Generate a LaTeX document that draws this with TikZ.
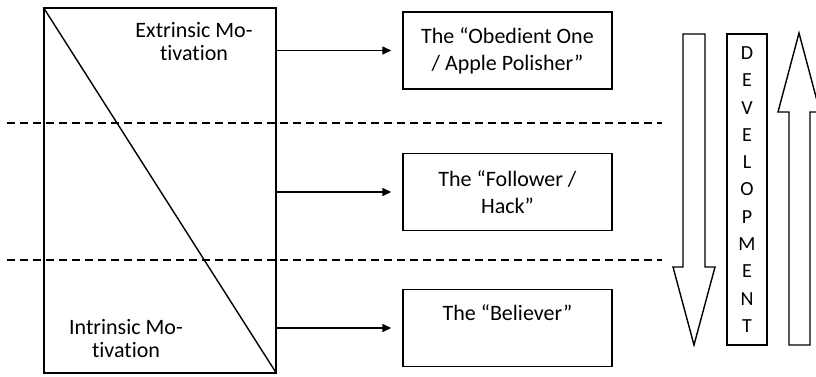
\documentclass[tikz,border=0pt]{standalone}
\usepackage{fontspec}
\setmainfont{Carlito}[Ligatures=NoCommon]
\usetikzlibrary{arrows.meta,calc}

\begin{document}
\begin{tikzpicture}[x=1pt,y=-1pt,line width=1.4pt,line join=miter,
		every node/.style={font=\fontsize{22}{27}\selectfont},
		kind/.style={draw,minimum width=209pt,minimum height=77pt,align=center,inner sep=0pt},
		feed/.style={-{Triangle[length=9pt,width=8pt]},shorten >=11pt},
		sep/.style={dash pattern=on 8pt off 5pt,line width=1.3pt}]
	\useasboundingbox (0,0) rectangle (816,376);
	% bands
	\draw[sep] (7,123) -- (662,123);
	\draw[sep] (7,260) -- (662,260);
	% motivation block
	\node[draw,minimum width=232pt,minimum height=365pt,inner sep=0pt] (M) at (160,190.5) {};
	\draw (M.north west) -- (M.south east);
	\node[align=center,font=\fontsize{22}{23}\selectfont] (ext) at (194,42) {Extrinsic Mo-\\tivation};
	\node[align=center,font=\fontsize{22}{23}\selectfont] (int) at (126,339) {Intrinsic Mo-\\tivation};
	% student types
	\node[kind] (obed) at (507.5,50.5) {The “Obedient One\\/ Apple Polisher”};
	\node[kind] (foll) at (507.5,192) {The “Follower /\\Hack”};
	\node[kind,text depth=30pt] (beli) at (507.5,328) {The “Believer”};
	\draw[feed] (M.east |- obed.west) -- (obed.west);
	\draw[feed] (M.east |- foll.west) -- (foll.west);
	\draw[feed] (M.east |- beli.west) -- (beli.west);
	% development arrows
	\draw (683,34) -- (705,34) -- (705,267) -- (715,267) -- (694,345) -- (673,267) -- (683,267) -- cycle;
	\node[draw,minimum width=40pt,minimum height=311pt,align=center,inner sep=0pt,
		font=\fontsize{20}{27.3}\selectfont] (dev) at (747,189.5) {D\\E\\V\\E\\L\\O\\P\\M\\E\\N\\T};
	\draw (789,345) -- (789,112) -- (778,112) -- (799,33) -- (820,112) -- (810,112) -- (810,345) -- cycle;
\end{tikzpicture}
\end{document}
